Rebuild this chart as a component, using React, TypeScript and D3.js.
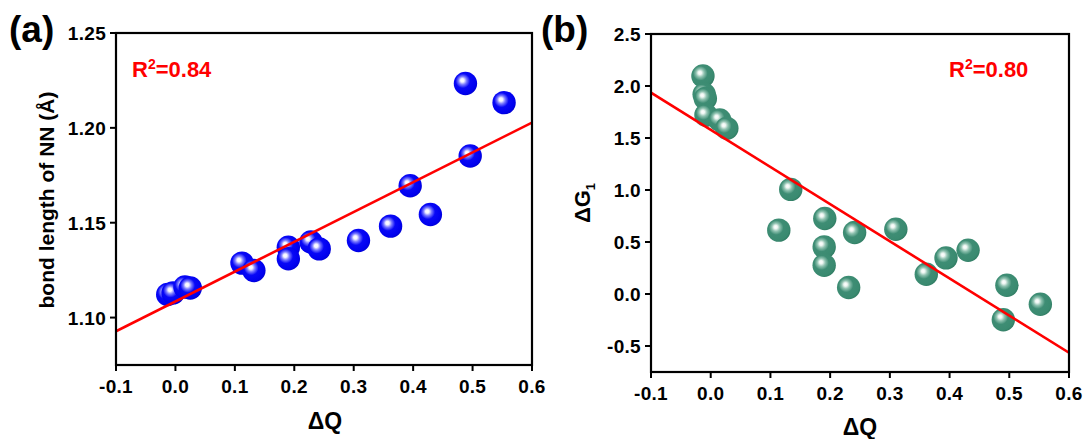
import React from 'react';
import * as d3 from 'd3';

// ---------- data ----------
const xTicks = [-0.1, 0, 0.1, 0.2, 0.3, 0.4, 0.5, 0.6];
const xTickLabels = ['-0.1', '0.0', '0.1', '0.2', '0.3', '0.4', '0.5', '0.6'];
const yTicksA = [1.1, 1.15, 1.2, 1.25];
const yTickLabelsA = ['1.10', '1.15', '1.20', '1.25'];
const yTicksB = [-0.5, 0, 0.5, 1, 1.5, 2, 2.5];
const yTickLabelsB = ['-0.5', '0.0', '0.5', '1.0', '1.5', '2.0', '2.5'];

const dqA = [-0.013, -0.004, 0.016, 0.025, 0.112, 0.132, 0.19, 0.19, 0.228, 0.242, 0.308, 0.362, 0.429, 0.395, 0.496, 0.488, 0.553];
const bondA = [1.1122, 1.113, 1.1161, 1.1156, 1.1287, 1.1248, 1.1371, 1.131, 1.1398, 1.1362, 1.1406, 1.1482, 1.1543, 1.1695, 1.1852, 1.2234, 1.2133];
const fitAx = [-0.1, 0.6];
const fitAy = [1.0928, 1.2028];

const dqB = [-0.013, -0.011, -0.009, -0.008, 0.015, 0.027, 0.114, 0.134, 0.191, 0.19, 0.19, 0.231, 0.241, 0.31, 0.361, 0.394, 0.431, 0.49, 0.496, 0.552];
const dgB = [2.097, 1.92, 1.88, 1.72, 1.673, 1.593, 0.614, 1.006, 0.726, 0.453, 0.276, 0.062, 0.591, 0.623, 0.19, 0.347, 0.421, -0.247, 0.084, -0.099];
const fitBx = [-0.1, 0.6];
const fitBy = [1.936, -0.565];

const FONT = '"Liberation Sans", Arial, Helvetica, sans-serif';

type PanelProps = {
  left: number; right: number; top: number; bottom: number;
  yDomain: [number, number];
  yTicks: number[]; yTickLabels: string[];
  xs: number[]; ys: number[];
  fx: number[]; fy: number[];
  grad: string;
};

function Panel(p: PanelProps) {
  const x = d3.scaleLinear().domain([-0.1, 0.6]).range([p.left, p.right]);
  const y = d3.scaleLinear().domain(p.yDomain).range([p.bottom, p.top]);
  const line = d3.line<number>().x((_, i) => x(p.fx[i])).y((_, i) => y(p.fy[i]));
  const clipId = 'clip-' + p.grad;
  return (
    <g>
      <clipPath id={clipId}>
        <rect x={p.left} y={p.top} width={p.right - p.left} height={p.bottom - p.top} />
      </clipPath>
      <g clipPath={`url(#${clipId})`}>
        {p.xs.map((v, i) => (
          <circle key={i} cx={x(v)} cy={y(p.ys[i])} r={11.7} fill={`url(#${p.grad})`} />
        ))}
        <path d={line(p.fx) || ''} stroke="#ff0000" strokeWidth={2.6} fill="none" />
      </g>
      <rect x={p.left} y={p.top} width={p.right - p.left} height={p.bottom - p.top} fill="none" stroke="#000" strokeWidth={2.2} />
      {xTicks.map((t, i) => (
        <g key={'x' + i}>
          <line x1={x(t)} x2={x(t)} y1={p.bottom} y2={p.bottom + 6} stroke="#000" strokeWidth={2} />
          <text x={x(t)} y={p.bottom + 28} textAnchor="middle" fontFamily={FONT} fontWeight="bold" fontSize={19} letterSpacing={0.3}>{xTickLabels[i]}</text>
        </g>
      ))}
      {p.yTicks.map((t, i) => (
        <g key={'y' + i}>
          <line x1={p.left - 6} x2={p.left} y1={y(t)} y2={y(t)} stroke="#000" strokeWidth={2} />
          <text x={p.left - 10} y={y(t) + 7} textAnchor="end" fontFamily={FONT} fontWeight="bold" fontSize={19} letterSpacing={0.3}>{p.yTickLabels[i]}</text>
        </g>
      ))}
    </g>
  );
}

export default function App() {
  return (
    <svg width={1087} height={439} style={{ position: 'absolute', left: 0, top: 0, background: '#fff' }}>
      <defs>
        <radialGradient id="gBlue" cx="42%" cy="42%" r="62%" fx="36%" fy="36%">
          <stop offset="0%" stopColor="#ffffff" />
          <stop offset="12%" stopColor="#f4f4ff" />
          <stop offset="28%" stopColor="#7b7bff" />
          <stop offset="50%" stopColor="#0808f6" />
          <stop offset="85%" stopColor="#0000ee" />
          <stop offset="100%" stopColor="#0000d0" />
        </radialGradient>
        <radialGradient id="gGreen" cx="42%" cy="42%" r="62%" fx="36%" fy="36%">
          <stop offset="0%" stopColor="#ffffff" />
          <stop offset="12%" stopColor="#eef6f2" />
          <stop offset="28%" stopColor="#8fc2b0" />
          <stop offset="50%" stopColor="#3e8d74" />
          <stop offset="85%" stopColor="#3a8a70" />
          <stop offset="100%" stopColor="#2f7a61" />
        </radialGradient>
      </defs>
      <rect x={0} y={0} width={1087} height={439} fill="#fff" />

      <Panel left={116} right={532} top={33} bottom={365} yDomain={[1.075, 1.25]}
        yTicks={yTicksA} yTickLabels={yTickLabelsA} xs={dqA} ys={bondA} fx={fitAx} fy={fitAy} grad="gBlue" />
      <Panel left={651} right={1069} top={34} bottom={372} yDomain={[-0.75, 2.5]}
        yTicks={yTicksB} yTickLabels={yTickLabelsB} xs={dqB} ys={dgB} fx={fitBx} fy={fitBy} grad="gGreen" />

      <text x={9} y={42} fontFamily={FONT} fontWeight="bold" fontSize={37}>(a)</text>
      <text x={541} y={42} fontFamily={FONT} fontWeight="bold" fontSize={37}>(b)</text>

      <text x={132} y={77} fontFamily={FONT} fontWeight="bold" fontSize={22} fill="#ff0000">
        R<tspan fontSize={14} dy={-8}>2</tspan><tspan dy={8}>=0.84</tspan>
      </text>
      <text x={949} y={77} fontFamily={FONT} fontWeight="bold" fontSize={22} fill="#ff0000">
        R<tspan fontSize={14} dy={-8}>2</tspan><tspan dy={8}>=0.80</tspan>
      </text>

      <text x={325} y={429} textAnchor="middle" fontFamily={FONT} fontWeight="bold" fontSize={23}>ΔQ</text>
      <text x={860} y={435} textAnchor="middle" fontFamily={FONT} fontWeight="bold" fontSize={23}>ΔQ</text>
      <text transform="translate(54,200) rotate(-90)" textAnchor="middle" fontFamily={FONT} fontWeight="bold" fontSize={21}>bond length of NN (Å)</text>
      <text transform="translate(590,203) rotate(-90)" textAnchor="middle" fontFamily={FONT} fontWeight="bold" fontSize={22}>
        ΔG<tspan fontSize={13} dy={5}>1</tspan>
      </text>
    </svg>
  );
}
